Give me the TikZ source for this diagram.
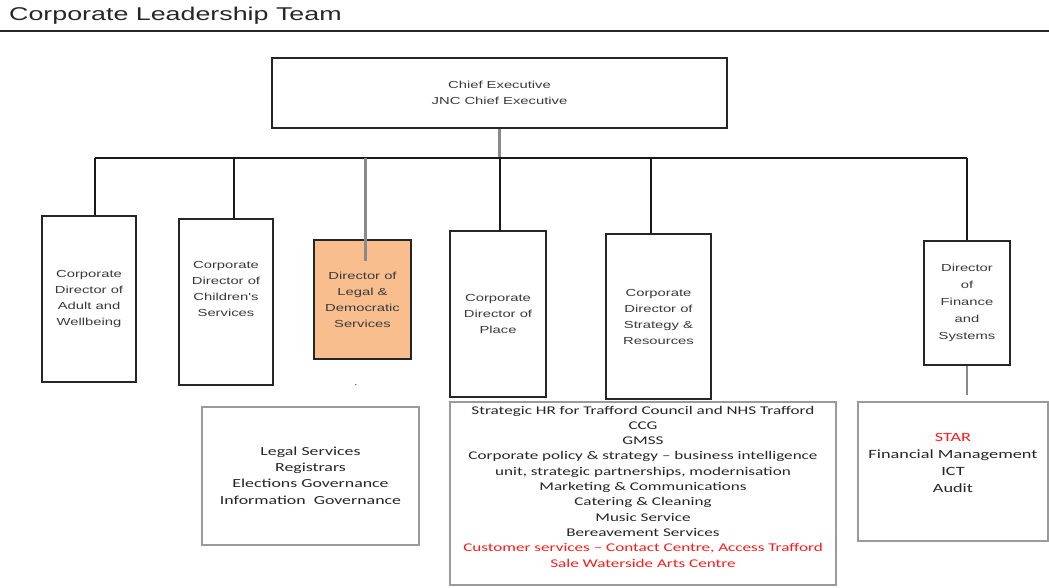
\documentclass[tikz,border=0pt]{standalone}
\usepackage{fontspec}
\newfontfamily\arialf[FakeStretch=1.45]{Liberation Sans}
\newfontfamily\calf[FakeStretch=1.45]{Carlito}
\definecolor{peach}{HTML}{F9BE8E}
\definecolor{txtgrey}{HTML}{3A3A3A}
\definecolor{linegrey}{HTML}{8A8A8A}
\definecolor{lightborder}{HTML}{9A9A9A}
\definecolor{redtxt}{HTML}{FF1A1A}
\begin{document}
\begin{tikzpicture}[x=1pt,y=-1pt,
  topbox/.style={draw=black!85,line width=2.3pt,fill=white,inner sep=0pt,align=center,
    text=txtgrey,font=\arialf\fontsize{10.2}{16}\selectfont},
  lowbox/.style={draw=lightborder,line width=1.4pt,fill=white,inner sep=0pt},
  caltext/.style={align=center,inner sep=0pt,text=black!85,font=\calf\fontsize{12.3}{16.3}\selectfont},
  link/.style={draw=black!90,line width=1.6pt},
  greylink/.style={draw=linegrey,line width=3pt}]
\useasboundingbox (0,0) rectangle (1049,587);
% title
\node[anchor=base west,inner sep=0pt,font=\arialf\fontsize{18.5}{20}\selectfont,text=black!85] (title) at (9,20) {Corporate Leadership Team};
\draw[line width=2.6pt,black!85] (0,31) coordinate (ul) -- (1049,31) coordinate (ur);
% chief executive
\node[topbox,minimum width=455pt,minimum height=70pt] (ce) at (499.5,93) {Chief Executive\\JNC Chief Executive};
% connector bar
\coordinate (hl) at (95,158);
\coordinate (hr) at (967,158);
\coordinate (c2) at (234,158);
\coordinate (c3) at (365,158);
\coordinate (c4) at (500,158);
\coordinate (c5) at (651,158);
\coordinate (c3e) at (365,261);
\draw[greylink,line width=3.5pt] (ce.south) -- (ce.south |- hl);
\draw[link] (hl) -- (hr);
% directors
\node[topbox,minimum width=94pt,minimum height=166pt] (adult) at (89,299) {Corporate\\Director of\\Adult and\\Wellbeing};
\node[topbox,minimum width=94pt,minimum height=166pt] (child) at (226,302) {};
\node[align=center,inner sep=0pt,text=txtgrey,font=\arialf\fontsize{10.2}{16}\selectfont] (childT) at (226,288.5) {Corporate\\Director of\\Children's\\Services};
\node[topbox,fill=peach,minimum width=97pt,minimum height=119pt] (legal) at (362.5,299.5) {Director of\\Legal \&\\Democratic\\Services};
\node[topbox,minimum width=96pt,minimum height=166pt] (place) at (498,314) {Corporate\\Director of\\Place};
\node[topbox,minimum width=105pt,minimum height=165pt] (strat) at (658.5,316.5) {Corporate\\Director of\\Strategy \&\\Resources};
\node[topbox,minimum width=86pt,minimum height=124pt,font=\arialf\fontsize{10.2}{17}\selectfont] (fin) at (967,303) {Director\\of\\Finance\\and\\Systems};
% connectors to directors
\draw[link] (hl) -- (hl |- adult.north);
\draw[link] (c2) -- (c2 |- child.north);
\draw[greylink] (c3) -- (c3e);
\draw[link] (c4) -- (c4 |- place.north);
\draw[link] (c5) -- (c5 |- strat.north);
\draw[link] (hr) -- (fin.north);
\node[inner sep=0pt,text=black!70,font=\arialf\fontsize{9}{9}\selectfont] (dot) at (356,385) {.};
% lower boxes
\node[lowbox,minimum width=217pt,minimum height=138pt] (legsvc) at (310.5,476) {};
\node[caltext] (legsvcT) at (310.5,475.5) {Legal Services\\Registrars\\Elections Governance\\Information\ \ Governance};
\node[lowbox,minimum width=386pt,minimum height=183pt] (list) at (643,493.5) {};
\node[caltext,font=\calf\fontsize{11.8}{15.3}\selectfont] (listT) at (643,486.5) {Strategic HR for Trafford Council and NHS Trafford\\CCG\\GMSS\\Corporate policy \& strategy – business intelligence\\unit, strategic partnerships, modernisation\\Marketing \& Communications\\Catering \& Cleaning\\Music Service\\Bereavement Services\\\textcolor{redtxt}{Customer services – Contact Centre, Access Trafford}\\\textcolor{redtxt}{Sale Waterside Arts Centre}};
\node[lowbox,minimum width=190pt,minimum height=139pt] (finsvc) at (953,471.5) {};
\node[caltext,font=\calf\fontsize{12.6}{17}\selectfont] (finsvcT) at (953,462.5) {\textcolor{redtxt}{STAR}\\Financial Management\\ICT\\Audit};
\coordinate (finlow) at (967,395);
\draw[draw=linegrey,line width=1.6pt] (fin.south) -- (finlow);
\end{tikzpicture}
\end{document}
